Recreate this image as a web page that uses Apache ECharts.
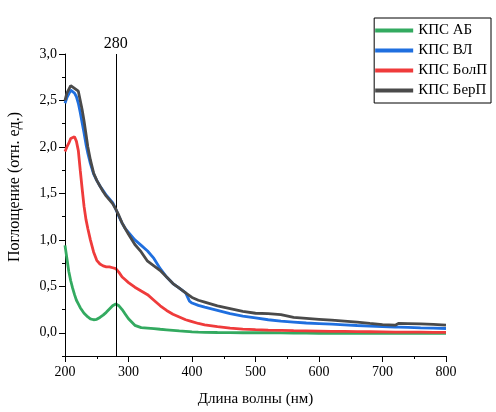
<!DOCTYPE html>
<html><head><meta charset="utf-8">
<script src="https://cdn.jsdelivr.net/npm/echarts@6/dist/echarts.min.js"></script>
<style>html,body{margin:0;padding:0;background:#fff}#c{width:496px;height:412px}</style>
</head><body><div id="c"></div>
<script>
const wavelengths = [200,203,206,209,212,215,218,221,224,227,230,233,236,240,245,250,255,260,265,270,275,280,285,290,295,300,310,320,330,340,350,360,370,380,390,393,396,400,410,420,440,460,480,500,520,540,560,580,600,620,640,660,680,700,720,725,740,760,780,800];
const seriesNames = ['КПС АБ','КПС ВЛ','КПС БолП','КПС БерП'];
const valuesAB = [0.94,0.80,0.66,0.56,0.48,0.41,0.35,0.31,0.27,0.24,0.21,0.19,0.17,0.15,0.14,0.145,0.165,0.19,0.22,0.255,0.29,0.31,0.29,0.25,0.20,0.15,0.08,0.055,0.05,0.045,0.038,0.032,0.026,0.02,0.015,0.013,0.012,0.01,0.007,0.005,0.003,0.002,0.0,0.0,0.0,-0.002,-0.003,-0.004,-0.005,-0.005,-0.005,-0.005,-0.005,-0.005,-0.005,-0.005,-0.005,-0.005,-0.005,-0.005];
const valuesVL = [2.47,2.53,2.57,2.61,2.61,2.58,2.54,2.47,2.37,2.26,2.15,2.03,1.93,1.82,1.71,1.64,1.58,1.53,1.48,1.44,1.40,1.33,1.25,1.18,1.12,1.08,1.00,0.94,0.88,0.80,0.69,0.60,0.53,0.48,0.43,0.415,0.34,0.32,0.295,0.275,0.24,0.205,0.18,0.16,0.14,0.125,0.115,0.105,0.099,0.092,0.085,0.078,0.072,0.066,0.062,0.061,0.058,0.053,0.05,0.046];
const valuesBolP = [1.95,2.00,2.04,2.09,2.07,2.11,2.06,1.96,1.75,1.55,1.36,1.22,1.12,1.00,0.87,0.78,0.74,0.72,0.71,0.71,0.70,0.69,0.65,0.60,0.57,0.54,0.49,0.45,0.41,0.35,0.29,0.24,0.20,0.17,0.14,0.135,0.128,0.12,0.10,0.085,0.065,0.05,0.04,0.033,0.028,0.025,0.022,0.02,0.018,0.016,0.014,0.012,0.011,0.01,0.008,0.008,0.007,0.006,0.005,0.004];
const valuesBerP = [2.50,2.58,2.60,2.66,2.65,2.63,2.64,2.60,2.50,2.40,2.28,2.14,2.00,1.86,1.72,1.64,1.58,1.52,1.47,1.43,1.39,1.33,1.26,1.18,1.12,1.06,0.95,0.87,0.77,0.72,0.67,0.60,0.53,0.48,0.43,0.42,0.40,0.38,0.35,0.33,0.29,0.26,0.23,0.21,0.205,0.195,0.165,0.155,0.145,0.135,0.125,0.115,0.10,0.088,0.082,0.10,0.098,0.095,0.09,0.082];
const colors = ['#33aa60','#1f6fdf','#ef3b3b','#4a4a4a'];
const markerWavelength = 280;
const yMajorTicks = [0,0.5,1.0,1.5,2.0,2.5,3.0];
const yMinorTicks = [-0.25,0.25,0.75,1.25,1.75,2.25,2.75];

const allValues = [valuesAB, valuesVL, valuesBolP, valuesBerP];
const font = 'Liberation Serif';
const chart = echarts.init(document.getElementById('c'), null, {renderer:'canvas'});
const series = seriesNames.map((n,i)=>({
  name:n, type:'line', yAxisIndex:0, showSymbol:false, symbol:'none',
  lineStyle:{color:colors[i], width:2.8}, itemStyle:{color:colors[i]},
  data: wavelengths.map((w,j)=>[w, allValues[i][j]]),
  z: 2+i
}));
series[0].markLine = {
  silent:true, symbol:'none',
  lineStyle:{color:'#000', width:1, type:'solid'},
  label:{show:true, position:'end', formatter:String(markerWavelength), fontFamily:font, fontSize:16, color:'#000', distance:2},
  data:[{xAxis:markerWavelength}]
};
chart.setOption({
  animation:false,
  grid:{left:65, right:50, top:54, bottom:51, containLabel:false},
  legend:{
    orient:'vertical', right:5, top:18,
    borderColor:'#000', borderWidth:1, padding:[5,4,5,1],
    itemGap:5, itemWidth:38, itemHeight:4, icon:'rect',
    textStyle:{fontFamily:font, fontSize:15, color:'#000'},
    data:seriesNames
  },
  xAxis:{
    type:'value', min:200, max:800, interval:100,
    name:'Длина волны (нм)', nameLocation:'middle', nameGap:36,
    nameTextStyle:{fontFamily:font, fontSize:15, color:'#000'},
    axisLine:{show:true, onZero:false, lineStyle:{color:'#000', width:1}},
    axisTick:{show:true, inside:false, length:6, lineStyle:{color:'#000'}},
    minorTick:{show:true, splitNumber:2, length:3, lineStyle:{color:'#000'}},
    axisLabel:{fontFamily:font, fontSize:14, color:'#000', margin:9},
    splitLine:{show:false}
  },
  yAxis:[{
    type:'value', min:-0.25, max:3.0,
    axisLine:{show:true, onZero:false, lineStyle:{color:'#000', width:1}},
    axisTick:{show:true, inside:false, length:6, customValues:yMajorTicks, lineStyle:{color:'#000'}},
    axisLabel:{fontFamily:font, fontSize:14, color:'#000', margin:8, customValues:yMajorTicks,
      formatter:v=>v.toFixed(1).replace('.',',')},
    splitLine:{show:false}
  },{
    type:'value', min:-0.25, max:3.0, position:'left', offset:0,
    axisLine:{show:false},
    axisTick:{show:true, inside:false, length:3, customValues:yMinorTicks, lineStyle:{color:'#000'}},
    axisLabel:{show:false},
    splitLine:{show:false}
  }],
  graphic:[{
    type:'text', x:15, y:187, rotation:Math.PI/2,
    style:{text:'Поглощение (отн. ед.)', font:'16px "Liberation Serif"', fill:'#000', align:'center', verticalAlign:'middle'}
  }],
  series: series
});
</script></body></html>
